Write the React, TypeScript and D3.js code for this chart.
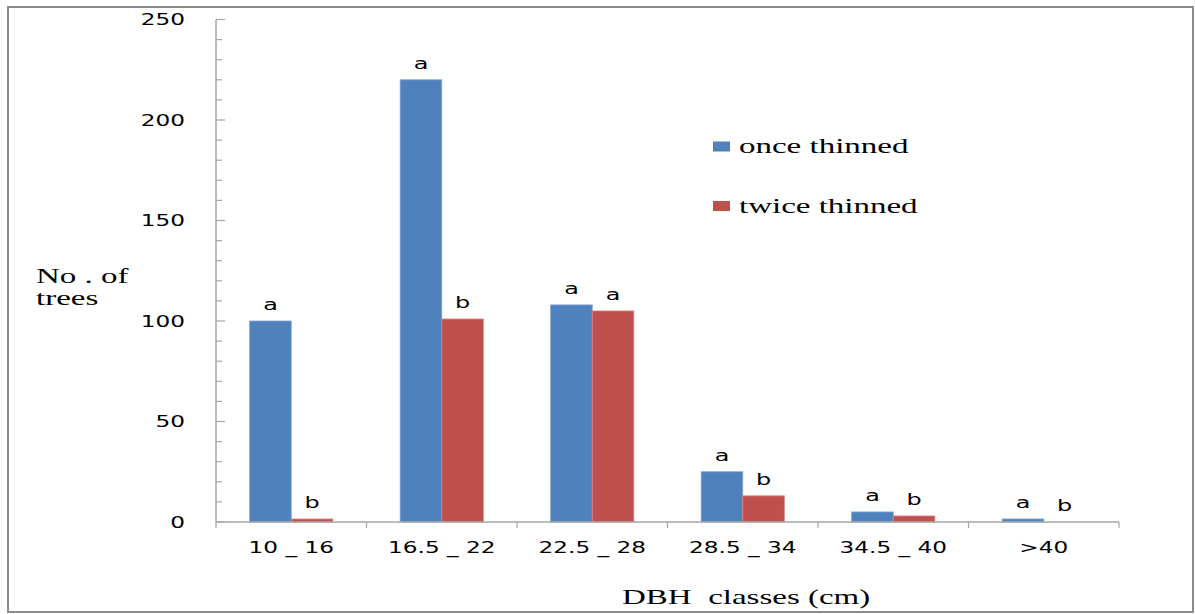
import React from 'react';
import * as d3 from 'd3';

const categories = ['10 _ 16', '16.5 _ 22', '22.5 _ 28', '28.5 _ 34', '34.5 _ 40', '>40'];
const seriesNames = ['once thinned', 'twice thinned'];
const onceThinned = [100, 220, 108, 25, 5, 1.5];
const twiceThinned = [1.5, 101, 105, 13, 3, 0];
const onceLetters = ['a', 'a', 'a', 'a', 'a', 'a'];
const twiceLetters = ['b', 'b', 'a', 'b', 'b', 'b'];
const yTicks = [0, 50, 100, 150, 200, 250];
const yMinorTicks = d3.range(0, 251, 10);
const colors = ['#4F81BD', '#C0504D'];
const strokeColors = ['#7EA2D0', '#D98683'];

const W = 1195;
const H = 614;
const SX = 1.45; // horizontal stretch of the original picture
const sans = "'DejaVu Sans', Verdana, sans-serif";
const serif = "'Liberation Serif', 'Times New Roman', serif";
const axisColor = '#A6A6A6';

export default function App() {
  const x0 = d3.scaleBand<string>().domain(categories).range([216, 1119]).paddingInner(0).paddingOuter(0);
  const x1 = d3.scaleBand<string>().domain(seriesNames).range([0, x0.bandwidth()]).paddingInner(0).paddingOuter(0.81);
  const y = d3.scaleLinear().domain([0, 250]).range([522, 19.5]);
  const values = [onceThinned, twiceThinned];
  const letters = [onceLetters, twiceLetters];
  const xLeft = x0.range()[0];
  const xRight = x0.range()[1];
  const boundaries = d3.range(categories.length + 1).map((i) => xLeft + i * x0.step());

  return (
    <svg width={W} height={H} style={{ position: 'absolute', left: 0, top: 0, background: '#fff' }}>
      <rect x={8} y={7} width={1185} height={605} fill="#fff" stroke="#8C8C8C" strokeWidth={2} />

      {/* y axis */}
      <line x1={xLeft} x2={xLeft} y1={y(250)} y2={y(0)} stroke={axisColor} strokeWidth={1.5} />
      {yMinorTicks.map((t) => (
        <line key={'m' + t} x1={xLeft} x2={xLeft + (t % 50 === 0 ? 9 : 6)} y1={y(t)} y2={y(t)} stroke={axisColor} strokeWidth={1.2} />
      ))}
      {yTicks.map((t) => (
        <text key={'yl' + t} transform={`translate(185,${y(t)}) scale(${SX},1)`} textAnchor="end" dy="0.37em"
          fontFamily={sans} fontSize={16} fill="#000">{t}</text>
      ))}

      {/* bars */}
      {categories.map((c, i) => (
        <g key={c}>
          {seriesNames.map((s, k) => {
            const v = values[k][i];
            const bx = (x0(c) as number) + (x1(s) as number);
            const bw = x1.bandwidth();
            return (
              <g key={s}>
                {v > 0 && (
                  <rect x={bx} y={y(v)} width={bw} height={y(0) - y(v)} fill={colors[k]} stroke={strokeColors[k]} strokeWidth={0.8} />
                )}
                <text transform={`translate(${bx + bw / 2},${y(v) - 11}) scale(${SX},1)`} textAnchor="middle"
                  fontFamily={sans} fontSize={16.5} fill="#000">{letters[k][i]}</text>
              </g>
            );
          })}
        </g>
      ))}

      {/* x axis */}
      <line x1={xLeft} x2={xRight} y1={y(0)} y2={y(0)} stroke={axisColor} strokeWidth={1.5} />
      {boundaries.map((b, i) => (
        <line key={'xt' + i} x1={b} x2={b} y1={y(0)} y2={y(0) + 6} stroke={axisColor} strokeWidth={1.2} />
      ))}
      {categories.map((c) => (
        <text key={'xl' + c} transform={`translate(${(x0(c) as number) + x0.bandwidth() / 2},553) scale(${SX},1)`}
          textAnchor="middle" fontFamily={sans} fontSize={16} fill="#000">{c}</text>
      ))}

      {/* axis titles */}
      <text transform={`translate(36,283) scale(1.5,1)`} fontFamily={serif} fontSize={22} fill="#000">No . of</text>
      <text transform={`translate(36,305) scale(1.5,1)`} fontFamily={serif} fontSize={22} fill="#000">trees</text>
      <text transform={`translate(622,604) scale(1.5,1)`} fontFamily={serif} fontSize={22} fill="#000" xmlSpace="preserve">DBH  classes (cm)</text>

      {/* legend */}
      {seriesNames.map((s, k) => (
        <g key={'lg' + s}>
          <rect x={713} y={141.5 + k * 59.5} width={17} height={10} fill={colors[k]} />
          <text transform={`translate(739,${153 + k * 59.5}) scale(1.5,1)`} fontFamily={serif} fontSize={22} fill="#000">{s}</text>
        </g>
      ))}
    </svg>
  );
}
